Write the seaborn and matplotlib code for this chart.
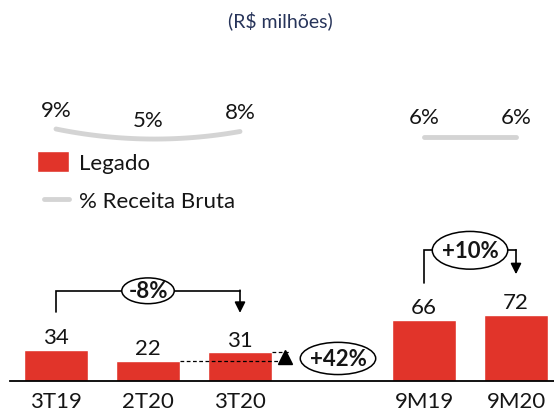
import numpy as np
import pandas as pd
import matplotlib
matplotlib.use('Agg')
import matplotlib.pyplot as plt
from matplotlib.patches import Ellipse, Patch
from matplotlib.lines import Line2D
from matplotlib.legend_handler import HandlerLine2D
import seaborn as sns

sns.set_style("white")
plt.rcParams['font.family'] = ['Lato', 'DejaVu Sans']

# == data
periods = ['3T19', '2T20', '3T20', '9M19', '9M20']
positions = [0, 1, 2, 4, 5]
legado = [34, 22, 31, 66, 72]
pct_receita = [9, 5, 8, 6, 6]
growth_labels = ['-8%', '+42%', '+10%']

red = '#E1342A'
grey = '#D4D4D4'
txt = '#151515'
fs = 16

df = pd.DataFrame({'pos': positions, 'periodo': periods,
                   'legado': legado, 'pct': pct_receita})

fig = plt.figure(figsize=(5.54, 4.14), dpi=100)
ax = fig.add_axes([10/554, 32/414, 544/554, 382/414])

# ==== bars
sns.barplot(data=df, x='pos', y='legado', native_scale=True, color=red,
            width=0.7, saturation=1, ax=ax)
ax.bar_label(ax.containers[0], fmt='%d', padding=2, fontsize=fs, color=txt)
ax.set_xlim(-0.5, 5.413)
ax.set_ylim(0, 415)
ax.set_xticks(positions)
ax.set_xticklabels(periods, fontsize=fs, color=txt)
ax.set_yticks([])
ax.set_xlabel('')
ax.set_ylabel('')
ax.tick_params(axis='x', length=0, pad=7)
for s in ['left', 'right', 'top']:
    ax.spines[s].set_visible(False)
ax.spines['bottom'].set_color('k')
ax.spines['bottom'].set_linewidth(1.3)

# ==== % receita bruta line (own scale)
ax2 = ax.twinx()
ax2.set_ylim(-91.8, 61)
ax2.axis('off')
coef = np.polyfit(positions[:3], pct_receita[:3], 2)
xs = np.linspace(positions[0], positions[2], 60)
ax2.plot(xs, np.polyval(coef, xs), color=grey, lw=3.5, solid_capstyle='round')
sns.lineplot(x=positions[3:], y=pct_receita[3:], color=grey, lw=3.5, ax=ax2)
ax2.lines[-1].set_solid_capstyle('round')
for x, p in zip(positions, pct_receita):
    ax2.annotate(f'{p}%', (x, p), xytext=(0, 14), textcoords='offset points',
                 ha='center', va='center', fontsize=fs, color=txt)


# ==== growth brackets
def bracket(i, j, label, top_off, start_off=41, end_off=43, ew=0.57, eh=28):
    x0, x1 = positions[i], positions[j]
    v0, v1 = legado[i], legado[j]
    top = max(v0, v1) + top_off
    ax.plot([x0, x0, x1], [v0 + start_off, top, top], color='k', lw=1.2,
            solid_joinstyle='miter')
    ax.annotate('', xy=(x1, v1 + end_off), xytext=(x1, top + 0.6),
                arrowprops=dict(arrowstyle='-|>', color='k', lw=1.2,
                                mutation_scale=16, shrinkA=0, shrinkB=0))
    xc = (x0 + x1) / 2
    ax.add_patch(Ellipse((xc, top), ew, eh, facecolor='white',
                         edgecolor='k', lw=1.1, zorder=5))
    ax.text(xc, top, label, ha='center', va='center', fontsize=fs,
            fontweight='bold', color=txt, zorder=6)


bracket(0, 2, growth_labels[0], 64)
bracket(3, 4, growth_labels[2], 70, end_off=44, ew=0.82, eh=41)

# +42% : 2T20 -> 3T20
x_end = 2.54
ax.plot([positions[1] + 0.35, x_end], [legado[1], legado[1]], color='k',
        lw=0.9, ls=(0, (3, 2)))
ax.plot([positions[2] + 0.35, x_end], [legado[2], legado[2]], color='k',
        lw=0.9, ls=(0, (3, 2)))
ax.plot([2.49], [(legado[1] + legado[2]) / 2], marker='^', ms=10, color='k')
ax.add_patch(Ellipse((3.065, 24.5), 0.82, 35, facecolor='white',
                     edgecolor='k', lw=1.1, zorder=5))
ax.text(3.065, 24.5, growth_labels[1], ha='center', va='center', fontsize=fs,
        fontweight='bold', color=txt, zorder=6)

# ==== legend
line_h = Line2D([0], [0], color=grey, lw=3.5, label='% Receita Bruta')
handles = [Patch(facecolor=red, label='Legado'), line_h]
leg = ax.legend(handles=handles, loc='upper left', frameon=False,
                bbox_to_anchor=(37/554, 1 - 152/414),
                bbox_transform=fig.transFigure, fontsize=fs,
                handlelength=1.45, handleheight=1.05, handletextpad=0.45,
                labelspacing=0.75, borderaxespad=0, borderpad=0,
                handler_map={line_h: HandlerLine2D(xpad=0.3)})
for t in leg.get_texts():
    t.set_color(txt)

fig.text(280/554, 1 - 21/414, '(R$ milhões)', ha='center', va='center',
         fontsize=14, color='#27345a')

plt.savefig('out.png', dpi=100)
plt.close()
